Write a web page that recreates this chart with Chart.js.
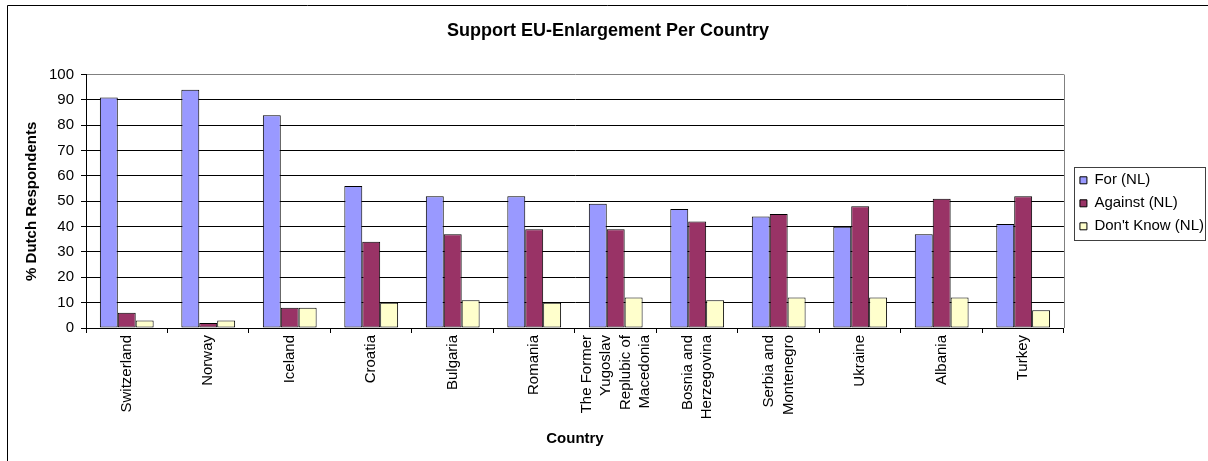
<!DOCTYPE html>
<html>
<head>
<meta charset="utf-8">
<script src="https://cdn.jsdelivr.net/npm/chart.js@4"></script>
<style>
  body { margin: 0; background: #fff; }
</style>
</head>
<body>
<canvas id="myChart" width="1208" height="461"></canvas>
<script>
var paises = ['Switzerland', 'Norway', 'Iceland', 'Croatia', 'Bulgaria', 'Romania',
    ['The Former', 'Yugoslav', 'Replubic of', 'Macedonia'], ['Bosnia and', 'Herzegovina'],
    ['Serbia and', 'Montenegro'], 'Ukraine', 'Albania', 'Turkey']
var aFavor = [91, 94, 84, 56, 52, 52, 49, 47, 44, 40, 37, 41]
var enContra = [6, 2, 8, 34, 37, 39, 39, 42, 45, 48, 51, 52]
var noSabe = [3, 3, 8, 10, 11, 10, 12, 11, 12, 12, 12, 7]
var ejeMin = 0
var ejeMax = 100
var ejePaso = 10

Chart.defaults.font.family = "'Liberation Sans', Arial, sans-serif"
Chart.defaults.color = '#000'

var marco = {
    id: 'marco',
    afterLayout: function (chart) {
        // mover la leyenda un poco, como en excel
        chart.legend.left += 8
        chart.legend.right += 8
        chart.legend.top += 2
        chart.legend.bottom += 2
    },
    beforeDraw: function (chart) {
        var ctx = chart.ctx
        ctx.save()
        ctx.fillStyle = '#fff'
        ctx.fillRect(0, 0, chart.width, chart.height)
        ctx.strokeStyle = '#000'
        ctx.lineWidth = 1
        ctx.beginPath()
        ctx.moveTo(7.5, chart.height)
        ctx.lineTo(7.5, 5.5)
        ctx.lineTo(chart.width, 5.5)
        ctx.stroke()
        ctx.restore()
        // centrar las etiquetas de varias lineas
        chart.scales.x.getLabelItems().forEach(function (it) {
            if (Array.isArray(it.label) && !it.centrado) {
                it.textOffset -= (it.label.length - 1) * it.font.lineHeight / 2
                it.centrado = true
            }
        })
    },
    afterDraw: function (chart) {
        var ctx = chart.ctx
        var a = chart.chartArea
        var lg = chart.legend
        ctx.save()
        ctx.lineWidth = 1
        ctx.strokeStyle = '#808080'
        ctx.beginPath()
        ctx.moveTo(Math.round(a.right) + 0.5, a.top)
        ctx.lineTo(Math.round(a.right) + 0.5, a.bottom)
        ctx.stroke()
        var y0 = (lg.top + 8 + lg.bottom - lg.columnSizes[0].height) / 2
        ctx.strokeStyle = '#404040'
        ctx.strokeRect(Math.round(lg.left) + 2.5, Math.round(y0) - 5.5, 131, 73)
        ctx.restore()
    }
}

var ctx = document.getElementById('myChart').getContext('2d')
var myChart = new Chart(ctx, {
    type: 'bar',
    data: {
        labels: paises,
        datasets: [{
            label: 'For (NL)',
            data: aFavor,
            backgroundColor: '#9999FF',
            borderColor: '#000',
            borderWidth: 1,
            borderSkipped: false
        },
        {
            label: 'Against (NL)',
            data: enContra,
            backgroundColor: '#993366',
            borderColor: '#000',
            borderWidth: 1,
            borderSkipped: false
        },
        {
            label: "Don't Know (NL)",
            data: noSabe,
            backgroundColor: '#FFFFCC',
            borderColor: '#000',
            borderWidth: 1,
            borderSkipped: false
        }]
    },
    options: {
        responsive: false,
        animation: false,
        devicePixelRatio: 1,
        categoryPercentage: 0.66,
        barPercentage: 1,
        layout: { padding: { left: 10, right: 2, top: 0, bottom: 0 } },
        plugins: {
            title: {
                display: true,
                text: 'Support EU-Enlargement Per Country',
                font: { size: 18, weight: 'bold' },
                padding: { top: 20, bottom: 33 }
            },
            legend: {
                position: 'right',
                fullSize: false,
                labels: { boxWidth: 7, boxHeight: 7, padding: 8, font: { size: 15 } }
            },
            tooltip: { enabled: false }
        },
        scales: {
            x: {
                grid: { drawOnChartArea: false, color: '#000', tickLength: 5, offset: true },
                border: { color: '#000' },
                ticks: { minRotation: 90, maxRotation: 90, autoSkip: false, padding: 2, font: { size: 15, lineHeight: 1.3 } },
                title: { display: true, text: 'Country', font: { size: 15, weight: 'bold' }, padding: { top: 0, bottom: 13 } },
                afterFit: function (s) { s.height = 133 }
            },
            y: {
                min: ejeMin,
                max: ejeMax,
                ticks: { stepSize: ejePaso, padding: 7, font: { size: 15 } },
                grid: {
                    color: function (c) { return c.tick && c.tick.value === ejeMax ? '#808080' : '#000' },
                    tickColor: '#000',
                    tickLength: 5
                },
                border: { color: '#000' },
                title: { display: true, text: '% Dutch Respondents', font: { size: 15, weight: 'bold' }, padding: { top: 13, bottom: 0 } },
                afterFit: function (s) { s.width = 76 }
            }
        }
    },
    plugins: [marco]
})
</script>
</body>
</html>
